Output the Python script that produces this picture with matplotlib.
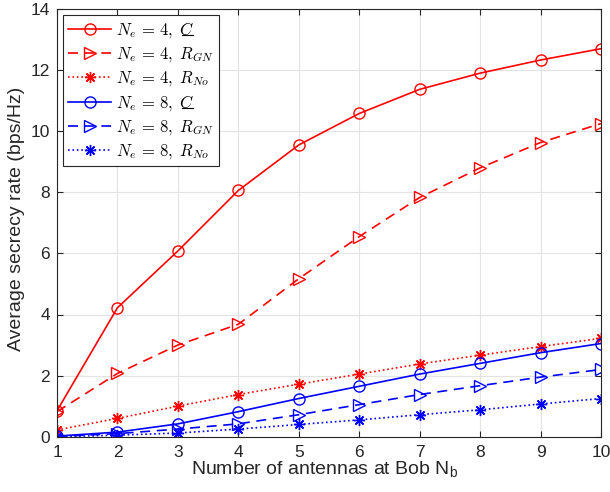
import matplotlib
matplotlib.use("Agg")
import matplotlib.pyplot as plt
from matplotlib.lines import Line2D

plt.rcParams['font.family'] = ['Liberation Sans', 'DejaVu Sans']
plt.rcParams['mathtext.fontset'] = 'cm'

# data
nb = [1, 2, 3, 4, 5, 6, 7, 8, 9, 10]
c_ne4 = [0.85, 4.22, 6.08, 8.06, 9.55, 10.58, 11.37, 11.9, 12.33, 12.7]
rgn_ne4 = [0.82, 2.07, 3.0, 3.68, 5.17, 6.55, 7.83, 8.8, 9.63, 10.25]
rno_ne4 = [0.22, 0.6, 1.0, 1.38, 1.72, 2.05, 2.38, 2.67, 2.95, 3.22]
c_ne8 = [0.02, 0.15, 0.42, 0.82, 1.25, 1.65, 2.05, 2.4, 2.75, 3.05]
rgn_ne8 = [0.01, 0.1, 0.25, 0.42, 0.72, 1.05, 1.38, 1.67, 1.95, 2.2]
rno_ne8 = [0.0, 0.05, 0.12, 0.25, 0.4, 0.55, 0.72, 0.88, 1.07, 1.25]

fig = plt.figure(figsize=(6.1, 4.92), dpi=100)
ax = fig.add_axes([57/610, 55.3/492, 544/610, 427.7/492])

ms = 8
lw = 1.2
dash = (0, (6, 4))
ast = (8, 2, 0)  # matlab style asterisk
ax.plot(nb, c_ne4, color='red', ls='-', lw=lw, marker='o', mfc='none', ms=ms, label=r'$N_e\,=\,4,\;C$')
ax.plot(nb, rgn_ne4, color='red', ls=dash, lw=lw, marker='>', mfc='none', ms=ms, label=r'$N_e\,=\,4,\;R_{GN}$')
ax.plot(nb, rno_ne4, color='red', ls=':', lw=lw, marker=ast, ms=ms, label=r'$N_e\,=\,4,\;R_{No}$')
ax.plot(nb, c_ne8, color='blue', ls='-', lw=lw, marker='o', mfc='none', ms=ms, label=r'$N_e\,=\,8,\;C$')
ax.plot(nb, rgn_ne8, color='blue', ls=dash, lw=lw, marker='>', mfc='none', ms=ms, label=r'$N_e\,=\,8,\;R_{GN}$')
ax.plot(nb, rno_ne8, color='blue', ls=':', lw=lw, marker=ast, ms=ms, label=r'$N_e\,=\,8,\;R_{No}$')

ax.set_xlim(1, 10)
ax.set_ylim(0, 14)
ax.set_xticks(range(1, 11))
ax.set_yticks(range(0, 15, 2))
ax.tick_params(direction='in', labelsize=12.5, top=True, right=True, length=4,
               labelcolor='#262626', color='#262626')
ax.tick_params(axis='x', pad=6)
ax.tick_params(axis='y', pad=5)
ax.grid(True, color='#e3e3e3', lw=0.8)
ax.set_axisbelow(True)
for s in ax.spines.values():
    s.set_color('#262626')

ax.set_xlabel('Number of antennas at Bob N$_\\mathregular{b}$', fontsize=14, color='#262626')
ax.set_ylabel('Average secrecy rate (bps/Hz)', fontsize=14, color='#262626')
ax.xaxis.set_label_coords(0.4926, -0.054)
ax.yaxis.set_label_coords(-0.0588, 0.509)

leg = ax.legend(loc='upper left', bbox_to_anchor=(0.011, 0.986), borderaxespad=0,
                fontsize=12, fancybox=False, edgecolor='#262626', framealpha=1,
                handlelength=2.6, labelspacing=0.3, borderpad=0.3, handletextpad=0.3)
leg.get_frame().set_linewidth(0.8)

# underline the C in the legend entries (mathtext has no \underline)
fig.canvas.draw()
for txt in leg.get_texts():
    if txt.get_text().endswith('C$'):
        bb = txt.get_window_extent()
        x1 = bb.x1 - 1
        x0 = x1 - 11
        y = bb.y0 + 5
        fig.add_artist(Line2D([x0 / 610, x1 / 610], [y / 492, y / 492],
                              transform=fig.transFigure, color='black', lw=0.8))

fig.savefig('out.png', dpi=100)
